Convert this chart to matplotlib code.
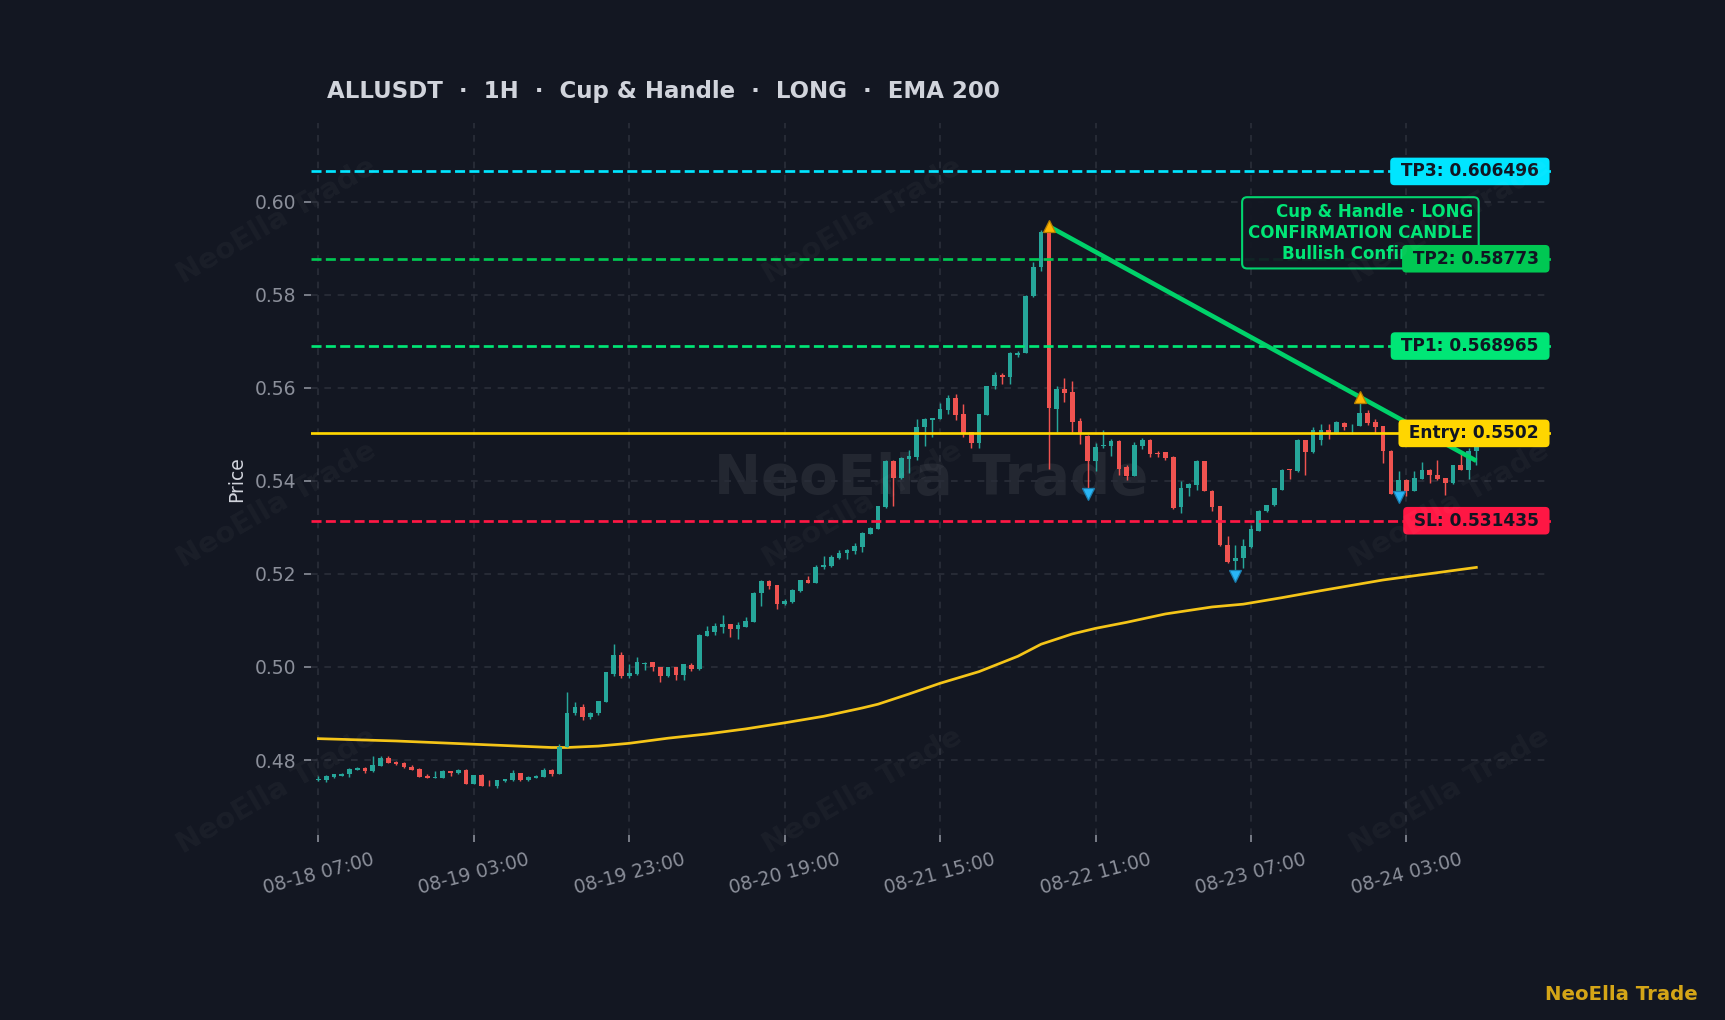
import numpy as np
import pandas as pd
import matplotlib
matplotlib.use("Agg")
import matplotlib.pyplot as plt

# ---- data --------------------------------------------------------------------
opens = [
    0.4758, 0.4758, 0.4764, 0.4766, 0.4769, 0.4779, 0.4783, 0.4776, 0.4788, 0.4805,
    0.4796, 0.4794, 0.4785, 0.4781, 0.4766, 0.4762, 0.4762, 0.4776, 0.4772, 0.4779,
    0.4749, 0.4768, 0.4747, 0.4745, 0.4754, 0.4757, 0.4772, 0.4757, 0.4762, 0.4764,
    0.4779, 0.4770, 0.4829, 0.4901, 0.4913, 0.4892, 0.4901, 0.4925, 0.4986, 0.5025,
    0.4980, 0.4984, 0.5007, 0.5010, 0.4999, 0.4980, 0.4999, 0.4982, 0.5004, 0.4995,
    0.5067, 0.5075, 0.5086, 0.5092, 0.5081, 0.5087, 0.5097, 0.5158, 0.5185, 0.5176,
    0.5136, 0.5140, 0.5163, 0.5187, 0.5181, 0.5214, 0.5217, 0.5235, 0.5244, 0.5250,
    0.5258, 0.5286, 0.5297, 0.5343, 0.5443, 0.5407, 0.5447, 0.5452, 0.5515, 0.5531,
    0.5533, 0.5553, 0.5578, 0.5543, 0.5505, 0.5481, 0.5542, 0.5603, 0.5628, 0.5624,
    0.5670, 0.5675, 0.5797, 0.5859, 0.5934, 0.5555, 0.5598, 0.5591, 0.5529, 0.5497,
    0.5443, 0.5474, 0.5475, 0.5486, 0.5429, 0.5411, 0.5474, 0.5488, 0.5459, 0.5461,
    0.5452, 0.5343, 0.5384, 0.5392, 0.5442, 0.5379, 0.5345, 0.5263, 0.5227, 0.5234,
    0.5257, 0.5293, 0.5335, 0.5348, 0.5381, 0.5425, 0.5422, 0.5487, 0.5461, 0.5488,
    0.5510, 0.5501, 0.5525, 0.5519, 0.5518, 0.5546, 0.5526, 0.5517, 0.5465, 0.5376,
    0.5402, 0.5379, 0.5404, 0.5424, 0.5413, 0.5406, 0.5395, 0.5433, 0.5424, 0.5464,
]
highs = [
    0.4766, 0.4768, 0.4770, 0.4772, 0.4783, 0.4784, 0.4784, 0.4809, 0.4809, 0.4809,
    0.4797, 0.4796, 0.4789, 0.4782, 0.4769, 0.4777, 0.4778, 0.4777, 0.4780, 0.4780,
    0.4768, 0.4769, 0.4757, 0.4757, 0.4760, 0.4779, 0.4773, 0.4765, 0.4768, 0.4783,
    0.4780, 0.4834, 0.4946, 0.4924, 0.4920, 0.4903, 0.4927, 0.4990, 0.5049, 0.5033,
    0.5006, 0.5021, 0.5010, 0.5011, 0.5000, 0.5000, 0.5000, 0.5007, 0.5008, 0.5070,
    0.5089, 0.5095, 0.5112, 0.5093, 0.5096, 0.5107, 0.5162, 0.5186, 0.5188, 0.5177,
    0.5146, 0.5167, 0.5188, 0.5196, 0.5220, 0.5239, 0.5241, 0.5252, 0.5253, 0.5267,
    0.5290, 0.5300, 0.5346, 0.5445, 0.5444, 0.5452, 0.5467, 0.5533, 0.5534, 0.5536,
    0.5567, 0.5585, 0.5586, 0.5565, 0.5506, 0.5543, 0.5604, 0.5633, 0.5631, 0.5676,
    0.5680, 0.5799, 0.5870, 0.5940, 0.5947, 0.5603, 0.5621, 0.5614, 0.5535, 0.5498,
    0.5481, 0.5510, 0.5491, 0.5487, 0.5434, 0.5484, 0.5493, 0.5489, 0.5465, 0.5463,
    0.5453, 0.5399, 0.5396, 0.5445, 0.5443, 0.5380, 0.5346, 0.5282, 0.5263, 0.5275,
    0.5306, 0.5337, 0.5349, 0.5385, 0.5425, 0.5426, 0.5490, 0.5488, 0.5515, 0.5523,
    0.5523, 0.5528, 0.5527, 0.5523, 0.5569, 0.5553, 0.5533, 0.5518, 0.5467, 0.5422,
    0.5403, 0.5421, 0.5440, 0.5425, 0.5444, 0.5407, 0.5434, 0.5459, 0.5470, 0.5530,
]
lows = [
    0.4755, 0.4752, 0.4762, 0.4765, 0.4763, 0.4778, 0.4773, 0.4775, 0.4787, 0.4793,
    0.4790, 0.4783, 0.4778, 0.4763, 0.4761, 0.4761, 0.4761, 0.4766, 0.4770, 0.4748,
    0.4748, 0.4744, 0.4745, 0.4741, 0.4753, 0.4756, 0.4756, 0.4754, 0.4761, 0.4763,
    0.4766, 0.4769, 0.4828, 0.4897, 0.4886, 0.4889, 0.4896, 0.4924, 0.4981, 0.4976,
    0.4976, 0.4983, 0.4993, 0.4991, 0.4968, 0.4979, 0.4971, 0.4973, 0.4991, 0.4994,
    0.5066, 0.5068, 0.5072, 0.5065, 0.5061, 0.5086, 0.5096, 0.5132, 0.5167, 0.5125,
    0.5134, 0.5137, 0.5162, 0.5180, 0.5180, 0.5210, 0.5214, 0.5232, 0.5233, 0.5242,
    0.5248, 0.5285, 0.5296, 0.5342, 0.5345, 0.5404, 0.5416, 0.5445, 0.5474, 0.5495,
    0.5532, 0.5543, 0.5531, 0.5495, 0.5470, 0.5470, 0.5541, 0.5597, 0.5608, 0.5609,
    0.5666, 0.5674, 0.5796, 0.5850, 0.5425, 0.5506, 0.5569, 0.5505, 0.5479, 0.5381,
    0.5422, 0.5470, 0.5454, 0.5412, 0.5401, 0.5410, 0.5469, 0.5452, 0.5452, 0.5445,
    0.5340, 0.5331, 0.5367, 0.5381, 0.5378, 0.5335, 0.5259, 0.5223, 0.5207, 0.5213,
    0.5256, 0.5292, 0.5334, 0.5347, 0.5380, 0.5403, 0.5419, 0.5413, 0.5460, 0.5478,
    0.5490, 0.5500, 0.5510, 0.5501, 0.5517, 0.5520, 0.5503, 0.5438, 0.5372, 0.5370,
    0.5368, 0.5378, 0.5403, 0.5396, 0.5402, 0.5370, 0.5394, 0.5423, 0.5403, 0.5433,
]
closes = [
    0.4760, 0.4766, 0.4769, 0.4771, 0.4781, 0.4783, 0.4777, 0.4789, 0.4805, 0.4794,
    0.4791, 0.4784, 0.4779, 0.4764, 0.4762, 0.4764, 0.4776, 0.4772, 0.4779, 0.4749,
    0.4768, 0.4745, 0.4746, 0.4757, 0.4759, 0.4772, 0.4757, 0.4764, 0.4766, 0.4779,
    0.4770, 0.4829, 0.4901, 0.4913, 0.4892, 0.4902, 0.4926, 0.4989, 0.5025, 0.4980,
    0.4987, 0.5010, 0.5009, 0.4999, 0.4980, 0.4999, 0.4982, 0.5006, 0.4995, 0.5068,
    0.5077, 0.5088, 0.5092, 0.5081, 0.5090, 0.5099, 0.5159, 0.5185, 0.5174, 0.5136,
    0.5142, 0.5165, 0.5187, 0.5181, 0.5214, 0.5219, 0.5236, 0.5246, 0.5252, 0.5261,
    0.5289, 0.5299, 0.5345, 0.5443, 0.5407, 0.5450, 0.5454, 0.5516, 0.5533, 0.5535,
    0.5555, 0.5578, 0.5542, 0.5502, 0.5482, 0.5543, 0.5604, 0.5628, 0.5624, 0.5675,
    0.5675, 0.5798, 0.5860, 0.5934, 0.5556, 0.5598, 0.5588, 0.5527, 0.5502, 0.5443,
    0.5472, 0.5477, 0.5486, 0.5426, 0.5411, 0.5476, 0.5488, 0.5458, 0.5457, 0.5449,
    0.5342, 0.5385, 0.5394, 0.5442, 0.5379, 0.5343, 0.5262, 0.5225, 0.5234, 0.5259,
    0.5297, 0.5336, 0.5348, 0.5384, 0.5424, 0.5423, 0.5487, 0.5462, 0.5510, 0.5510,
    0.5502, 0.5526, 0.5515, 0.5521, 0.5546, 0.5524, 0.5515, 0.5464, 0.5372, 0.5402,
    0.5379, 0.5406, 0.5424, 0.5413, 0.5403, 0.5395, 0.5433, 0.5424, 0.5465, 0.5483,
]
start_time = "2025-08-18 07:00"

# EMA 200 read at a few candles (index, value)
ema_idx = [0, 10, 20, 30, 32, 36, 40, 45, 50, 55, 60, 65, 70, 72, 76, 80, 85, 90, 93,
           97, 100, 104, 109, 115, 119, 124, 129, 137, 149]
ema_val = [0.4846, 0.4841, 0.4834, 0.4827, 0.4827, 0.4830, 0.4836, 0.4847, 0.4856,
           0.4867, 0.4880, 0.4894, 0.4912, 0.4920, 0.4942, 0.4965, 0.4990, 0.5023,
           0.5049, 0.5071, 0.5083, 0.5096, 0.5114, 0.5129, 0.5135, 0.5149, 0.5164,
           0.5187, 0.5214]

levels = {
    "TP3": 0.606496,
    "TP2": 0.58773,
    "TP1": 0.568965,
    "Entry": 0.5502,
    "SL": 0.531435,
}
level_text = {
    "TP3": "TP3: 0.606496",
    "TP2": "TP2: 0.58773",
    "TP1": "TP1: 0.568965",
    "Entry": "Entry: 0.5502",
    "SL": "SL: 0.531435",
}

pivot_high_idx = [94, 134]
pivot_high_val = [0.5947, 0.5580]
pivot_low_idx = [99, 118, 139]
pivot_low_val = [0.5372, 0.5196, 0.5366]

trend_idx = [94, 149]
trend_val = [0.5947, 0.5443]

title = "ALLUSDT  \u00b7  1H  \u00b7  Cup & Handle  \u00b7  LONG  \u00b7  EMA 200"
pattern_note = "Cup & Handle \u00b7 LONG\nCONFIRMATION CANDLE\nBullish Confirmation"
brand = "NeoElla Trade"

# ---- style -------------------------------------------------------------------
BG = "#131722"
GRID = "#2a2e39"
UP = "#26a69a"
DOWN = "#ef5350"
level_style = {
    "TP3": ("#00e5ff", "--"),
    "TP2": ("#00c853", "--"),
    "TP1": ("#00e676", "--"),
    "Entry": ("#ffd600", "-"),
    "SL": ("#ff1744", "--"),
}

fig = plt.figure(figsize=(11.5, 6.8), dpi=150, facecolor=BG)
ax = fig.add_axes([0.1803, 0.1814, 0.7188, 0.6980])
ax.set_facecolor(BG)

o = np.array(opens)
h = np.array(highs)
l = np.array(lows)
c = np.array(closes)
x = np.arange(len(o))
colors = np.where(c >= o, UP, DOWN)

# watermarks
for fx in (0.16, 0.50, 0.84):
    for fy in (0.225, 0.505, 0.784):
        fig.text(fx, fy, brand, rotation=30, fontsize=14, fontweight="bold",
                 color="white", alpha=0.035, ha="center", va="center", zorder=0)
ax.text(0.5, 0.5, brand, transform=ax.transAxes, fontsize=27, fontweight="bold",
        color="white", alpha=0.07, ha="center", va="center", zorder=0.5)

ax.grid(True, color=GRID, linestyle=(0, (4, 4)), linewidth=0.8)
ax.set_axisbelow(True)

# EMA
ax.plot(ema_idx, ema_val, color="#f5c518", linewidth=1.3, zorder=2)

# candles
ax.vlines(x, l, h, colors=colors, linewidth=0.7, zorder=3)
body_low = np.minimum(o, c)
body_h = np.maximum(np.abs(c - o), 0.00012)
ax.bar(x, body_h, bottom=body_low, width=0.6, color=colors, linewidth=0, zorder=4)

# level lines and labels
for name, price in levels.items():
    col, ls = level_style[name]
    ax.axhline(price, color=col, linestyle=ls, linewidth=1.3, zorder=5)

ax.plot(trend_idx, trend_val, color="#00d26a", linewidth=2.2, zorder=6,
        solid_capstyle="butt")

ax.plot(pivot_high_idx, pivot_high_val, linestyle="none", marker="^", ms=5.5,
        color="#ffb300", markeredgecolor="#b57f00", markeredgewidth=0.6, zorder=7)
ax.plot(pivot_low_idx, pivot_low_val, linestyle="none", marker="v", ms=5.5,
        color="#29b6f6", markeredgecolor="#1a7fb0", markeredgewidth=0.6, zorder=7)

ax.text(0.937, 0.5933, pattern_note, transform=ax.get_yaxis_transform(),
        ha="right", va="center", multialignment="right", fontsize=8,
        fontweight="bold", color="#00e676", linespacing=1.2, zorder=8,
        bbox=dict(boxstyle="round,pad=0.35,rounding_size=0.3", facecolor=BG,
                  edgecolor="#00e676", linewidth=1.0, alpha=0.92))

for name, price in levels.items():
    col, _ = level_style[name]
    ax.text(0.995, price, " " + level_text[name] + " ", transform=ax.get_yaxis_transform(),
            ha="right", va="center", fontsize=8.2, fontweight="bold", color="#111522",
            zorder=9,
            bbox=dict(boxstyle="round,pad=0.28,rounding_size=0.25", facecolor=col,
                      edgecolor="none"))

# axes
ax.set_xlim(-0.95, 158.6)
ax.set_ylim(0.4639, 0.6169)
for s in ax.spines.values():
    s.set_visible(False)

times = pd.date_range(start_time, periods=len(o), freq="h")
tick_pos = list(range(0, len(o), 20))
ax.set_xticks(tick_pos)
ax.set_xticklabels([times[i].strftime("%m-%d %H:%M") for i in tick_pos],
                   rotation=15, ha="center")
ax.set_yticks(np.arange(0.48, 0.601, 0.02))
ax.yaxis.set_major_formatter(matplotlib.ticker.FormatStrFormatter("%.2f"))
ax.tick_params(colors="#8b8f9a", labelsize=9, length=3.5, width=0.8)
ax.set_ylabel("Price", color="#d1d4dc", fontsize=9)

fig.text(0.1894, 0.9042, title, color="#d1d4dc", fontsize=11, fontweight="bold",
         ha="left", va="baseline")
fig.text(0.984, 0.0195, brand, color="#d4a517", fontsize=9.5, fontweight="bold",
         ha="right", va="baseline")

fig.savefig("out.png", dpi=150, facecolor=BG)
